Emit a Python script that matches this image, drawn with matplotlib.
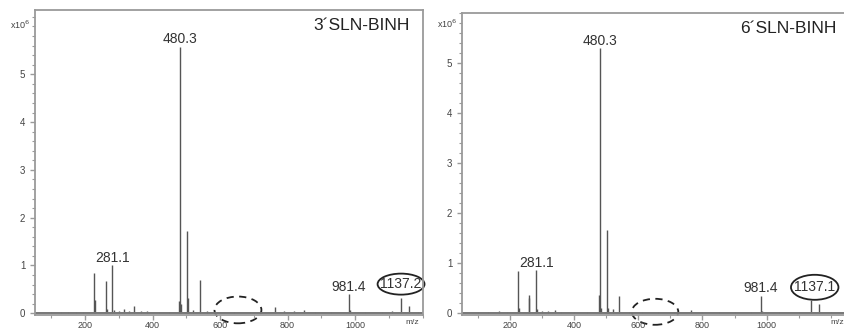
import matplotlib.pyplot as plt
from matplotlib.patches import Ellipse
from matplotlib.ticker import MultipleLocator

plt.rcParams['font.family'] = ['Liberation Sans', 'DejaVu Sans']

# ---- data (intensity in 1e6 counts) ----
left_title = "3\u00b4SLN-BINH"
left_mz = [100, 128, 150, 172, 195, 227, 229, 262, 264, 281.1, 285, 300, 316,
           330, 345, 365, 384, 420, 450, 478, 480.3, 483, 502, 505, 520, 541,
           560, 590, 640, 690, 725, 763, 790, 820, 848, 880, 930, 981.4,
           984, 1030, 1080, 1110, 1137.2, 1159, 1185]
left_int = [0.03, 0.02, 0.03, 0.02, 0.03, 0.84, 0.28, 0.68, 0.08, 1.00, 0.06,
            0.04, 0.09, 0.05, 0.15, 0.04, 0.05, 0.03, 0.03, 0.25, 5.58, 0.20,
            1.72, 0.31, 0.07, 0.70, 0.05, 0.03, 0.03, 0.03, 0.03, 0.13, 0.04,
            0.04, 0.06, 0.03, 0.03, 0.40, 0.06, 0.03, 0.03, 0.04, 0.33, 0.15,
            0.03]
left_labels = ["281.1", "480.3", "981.4"]

right_title = "6\u00b4SLN-BINH"
right_mz = [100, 130, 165, 190, 226, 229, 258, 260, 281.1, 284, 300, 318,
            340, 360, 400, 440, 478, 480.3, 483, 502, 505, 520, 541, 570, 610,
            660, 710, 763, 800, 850, 900, 950, 981.4, 985, 1040, 1100,
            1137.1, 1164, 1200]
right_int = [0.02, 0.03, 0.05, 0.03, 0.85, 0.10, 0.37, 0.30, 0.86, 0.08,
             0.04, 0.04, 0.07, 0.03, 0.03, 0.02, 0.37, 5.30, 0.10, 1.67, 0.10,
             0.08, 0.35, 0.03, 0.02, 0.02, 0.03, 0.06, 0.03, 0.02, 0.02, 0.02,
             0.35, 0.05, 0.02, 0.02, 0.27, 0.19, 0.02]
right_labels = ["281.1", "480.3", "981.4"]

peak_col = "#555555"
frame_col = "#9a9a9a"
txt_col = "#333333"


def draw_panel(ax, mz, inten, labels, circled, title, xlim, ylim, xunit_y,
               mz_x, dashed, solid):
    ax.vlines(mz, 0, inten, color=peak_col, lw=1.0)
    ax.plot([xlim[0], xlim[1]], [0.01, 0.01], color="#777777", lw=1.4)
    ax.set_xlim(*xlim)
    ax.set_ylim(*ylim)

    for lab in labels:
        v = float(lab)
        i = mz.index(v)
        ax.text(v, inten[i] + 0.01, lab, ha="center", va="bottom",
                fontsize=10, color=txt_col)

    # circled peak label
    cx, cy, w, h = solid
    ax.text(cx, cy, circled, ha="center", va="center", fontsize=10,
            color=txt_col)
    ax.add_patch(Ellipse((cx, cy), w, h, fill=False, ec="#222222", lw=1.3,
                         clip_on=False))
    dx, dy, dw, dh = dashed
    ax.add_patch(Ellipse((dx, dy), dw, dh, fill=False, ec="#222222", lw=1.3,
                         ls=(0, (4, 3)), clip_on=False))

    ax.text(0.965, 0.975, title, transform=ax.transAxes, ha="right", va="top",
            fontsize=12.5, color="#222222")

    for s in ax.spines.values():
        s.set_color(frame_col)
        s.set_linewidth(1.3)

    ax.xaxis.set_major_locator(MultipleLocator(200))
    ax.xaxis.set_minor_locator(MultipleLocator(100))
    ax.yaxis.set_major_locator(MultipleLocator(1))
    ax.yaxis.set_minor_locator(MultipleLocator(0.2))
    ax.tick_params(which="both", direction="out", colors=frame_col,
                   labelcolor="#444444", labelsize=7)
    ax.tick_params(which="major", length=3.5, width=1)
    ax.tick_params(which="minor", length=2, width=0.8)
    ax.tick_params(axis="x", pad=0.5, labelsize=6.5)
    ax.set_yticks([0, 1, 2, 3, 4, 5])
    ax.set_xticks([200, 400, 600, 800, 1000])

    ax.text(-0.012, xunit_y, "x10$^{6}$", transform=ax.transAxes, ha="right",
            va="center", fontsize=6.5, color="#444444")
    ax.text(mz_x, -0.012, "m/z", transform=ax.transAxes, ha="center",
            va="top", fontsize=6, color="#444444")


fig = plt.figure(figsize=(8.44, 3.29), dpi=100)
ax1 = fig.add_axes([35 / 844, 14 / 329, 388 / 844, 305 / 329])
ax2 = fig.add_axes([462 / 844, 14 / 329, 388 / 844, 302 / 329])

draw_panel(ax1, left_mz, left_int, left_labels, "1137.2", left_title,
           (52, 1201), (-0.036, 6.345), 0.95, 0.972,
           (653, 0.07, 139, 0.56), (1136, 0.61, 139, 0.44))
draw_panel(ax2, right_mz, right_int, right_labels, "1137.1", right_title,
           (50, 1260), (-0.034, 6.006), 0.965, 0.966,
           (652, 0.03, 145, 0.52), (1150, 0.52, 148, 0.5))

fig.savefig("out.png", dpi=100)
